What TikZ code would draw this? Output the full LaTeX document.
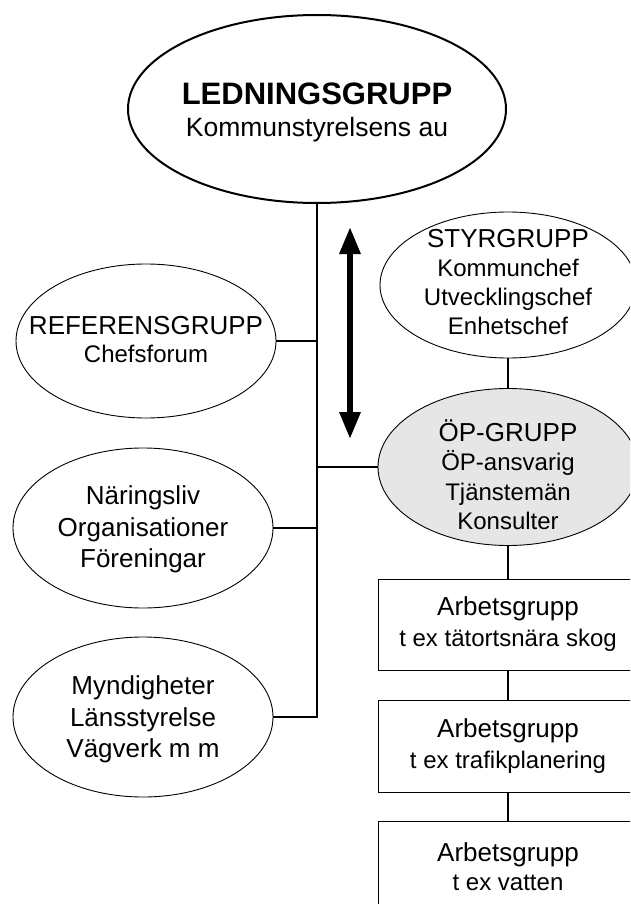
\documentclass[tikz,border=0pt]{standalone}
\usepackage{fontspec}
\setmainfont{Liberation Sans}
\usetikzlibrary{arrows.meta,shapes.geometric}
\definecolor{opgray}{RGB}{230,230,230}
\begin{document}
\begin{tikzpicture}[x=1pt,y=-1pt,
  oval/.style={ellipse,draw,line width=0.9pt,inner sep=0pt},
  txt/.style={align=center,inner sep=0pt},
  conn/.style={line width=2pt},
  wbox/.style={rectangle,draw,line width=0.9pt,minimum width=260pt,inner sep=0pt,align=center}]
\useasboundingbox (0,0) rectangle (630,904);
\clip (0,0) rectangle (630,904);

% top
\node[oval, line width=2pt, minimum width=378pt, minimum height=188pt] (led) at (317,109) {};
\node[txt, font=\fontsize{26.5}{32}\selectfont] (ledt) at (317,112.6)
  {{\fontsize{31}{32}\selectfont\bfseries LEDNINGSGRUPP}\\Kommunstyrelsens au};

% left column
\node[oval, minimum width=260pt, minimum height=154pt] (ref) at (146,341) {};
\node[txt, font=\fontsize{24}{28}\selectfont] (reft) at (146,339.5)
  {{\fontsize{26}{28}\selectfont REFERENSGRUPP}\\Chefsforum};

\node[oval, minimum width=260pt, minimum height=160pt] (nar) at (143,528) {};
\node[txt, font=\fontsize{26}{31.5}\selectfont] (nart) at (143,529.7)
  {Näringsliv\\Organisationer\\Föreningar};

\node[oval, minimum width=260pt, minimum height=160pt] (myn) at (143,717) {};
\node[txt, font=\fontsize{26}{31.5}\selectfont] (mynt) at (143,719.7)
  {Myndigheter\\Länsstyrelse\\Vägverk m m};

% right column
\node[oval, minimum width=256pt, minimum height=146pt] (styr) at (508,285) {};
\node[txt, font=\fontsize{24}{29}\selectfont] (styrt) at (508,282)
  {{\fontsize{26}{29}\selectfont STYRGRUPP}\\Kommunchef\\Utvecklingschef\\Enhetschef};

\node[oval, fill=opgray, minimum width=260pt, minimum height=157pt] (op) at (508,467) {};
\node[txt, font=\fontsize{24}{29.5}\selectfont] (opt) at (508,474.5)
  {{\fontsize{26}{29.5}\selectfont ÖP-GRUPP}\\ÖP-ansvarig\\Tjänstemän\\Konsulter};

\node[wbox, minimum height=91pt, font=\fontsize{24}{31}\selectfont] (b1) at (508,624.5)
  {{\fontsize{26}{31}\selectfont Arbetsgrupp}\\t ex tätortsnära skog};
\node[wbox, minimum height=92pt, font=\fontsize{24}{31}\selectfont] (b2) at (508,746)
  {{\fontsize{26}{31}\selectfont Arbetsgrupp}\\t ex trafikplanering};
\node[wbox, minimum height=92pt, font=\fontsize{24}{29}\selectfont] (b3) at (508,867)
  {{\fontsize{26}{29}\selectfont Arbetsgrupp}\\t ex vatten};

% connectors
\draw[conn] (led.south) -- (led.south |- myn.east) -- (myn.east);
\draw[conn] (ref.east) -- (ref.east -| led.south);
\draw[conn] (nar.east) -- (nar.east -| led.south);
\draw[conn] (op.west) -- (op.west -| led.south);
\draw[conn] (styr.south) -- (op.north);
\draw[conn] (op.south) -- (b1.north);
\draw[conn] (b1.south) -- (b2.north);
\draw[conn] (b2.south) -- (b3.north);

% double arrow
\coordinate (atop) at (350,227);
\coordinate (abot) at (350,439);
\draw[line width=6pt, {Triangle[length=27pt,width=20pt]}-{Triangle[length=27pt,width=20pt]}] (atop) -- (abot);
\end{tikzpicture}
\end{document}
